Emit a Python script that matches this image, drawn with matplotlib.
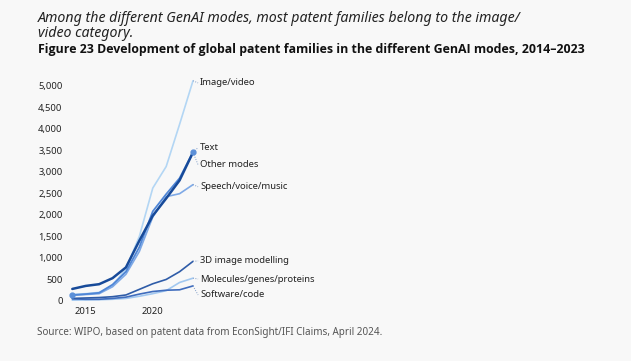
import matplotlib
matplotlib.use("Agg")
import matplotlib.pyplot as plt
from matplotlib.ticker import FuncFormatter

plt.rcParams['font.family'] = ['Noto Sans', 'DejaVu Sans']

# --- Data ---
years = [2014, 2015, 2016, 2017, 2018, 2019, 2020, 2021, 2022, 2023]
image_video = [150, 170, 200, 350, 750, 1500, 2620, 3120, 4100, 5110]
text = [140, 160, 190, 380, 680, 1250, 2080, 2480, 2850, 3450]
other_modes = [280, 350, 390, 530, 780, 1400, 1980, 2380, 2800, 3450]
speech = [130, 150, 170, 330, 620, 1150, 1950, 2420, 2490, 2700]
modelling_3d = [60, 70, 80, 100, 140, 270, 400, 500, 680, 920]
molecules = [20, 25, 30, 40, 60, 110, 170, 240, 430, 530]
software = [50, 40, 40, 60, 90, 160, 220, 250, 260, 350]

series = [
    ("Image/video", image_video, "#b3d6f4", 1.2, 5060),
    ("Speech/voice/music", speech, "#7ea9e6", 1.2, 2650),
    ("Molecules/genes/proteins", molecules, "#a2c8f0", 1.2, 510),
    ("Software/code", software, "#3f6cbd", 1.2, 140),
    ("3D image modelling", modelling_3d, "#2f5ca8", 1.2, 930),
    ("Text", text, "#4f86d6", 1.3, 3560),
    ("Other modes", other_modes, "#174a99", 1.8, 3160),
]

fig = plt.figure(figsize=(6.31, 3.61), dpi=100, facecolor="#f8f8f8")
ax = fig.add_axes([72.3 / 631, 60 / 361, 120.7 / 631, 224.1 / 361])
ax.set_facecolor("#f8f8f8")

for name, vals, color, lw, label_y in series:
    ax.plot(years, vals, color=color, lw=lw, clip_on=False, solid_capstyle="round")
    ax.plot([years[-1], 2023.38], [vals[-1], label_y], color="#7f9cc7",
            lw=0.7, ls=(0, (1, 1.5)), clip_on=False)
    ax.text(2023.52, label_y, name, fontsize=6.8, color="#222222",
            va="center", ha="left", clip_on=False)

# highlighted points on the Text series
ax.plot([years[0], years[-1]], [text[0], text[-1]], "o", color="#5b8fd8",
        ms=3.5, clip_on=False)

ax.set_xlim(2014, 2023)
ax.set_ylim(0, 5200)
ax.set_xticks([2015, 2020])
ax.set_yticks(range(0, 5001, 500))
ax.yaxis.set_major_formatter(FuncFormatter(lambda v, p: f"{int(v):,}"))
ax.tick_params(axis="both", length=0, labelsize=6.8, labelcolor="#222222")
ax.tick_params(axis="y", pad=7)
ax.tick_params(axis="x", pad=4)
for s in ax.spines.values():
    s.set_visible(False)

fig.text(38 / 631, 1 - 18 / 361,
         "Among the different GenAI modes, most patent families belong to the image/",
         fontsize=10.2, style="italic", color="#222222", va="center")
fig.text(38 / 631, 1 - 33.5 / 361, "video category.",
         fontsize=10.2, style="italic", color="#222222", va="center")
fig.text(38 / 631, 1 - 50 / 361,
         "Figure 23 Development of global patent families in the different GenAI modes, 2014\u20132023",
         fontsize=8.95, fontweight="bold", family=["Open Sans", "DejaVu Sans"],
         color="#111111", va="center")
fig.text(37 / 631, 1 - 332 / 361,
         "Source: WIPO, based on patent data from EconSight/IFI Claims, April 2024.",
         fontsize=7.1, color="#555555", va="center")

fig.savefig("out.png", dpi=100, facecolor=fig.get_facecolor())
